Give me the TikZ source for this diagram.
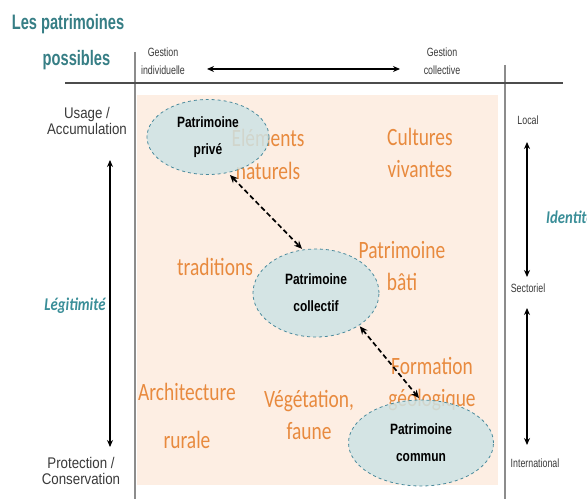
\documentclass[tikz,border=0pt]{standalone}
\usepackage{fontspec}
\usetikzlibrary{arrows.meta,shapes.geometric}
\setmainfont{Liberation Sans}
\newfontfamily\calfont[FakeStretch=0.78]{Carlito}
\newfontfamily\calaxis[FakeStretch=0.82]{Carlito}
\newfontfamily\narrowfont[FakeStretch=0.74]{Liberation Sans}
\newfontfamily\leftfont[FakeStretch=0.86]{Liberation Sans}
\newfontfamily\titlefont[FakeStretch=0.7]{Liberation Sans}
\newfontfamily\ellfont[FakeStretch=0.8]{Liberation Sans}
\definecolor{orangeC}{HTML}{E88A3E}
\definecolor{tealT}{HTML}{367E85}
\definecolor{tealL}{HTML}{3A8E98}
\definecolor{peach}{HTML}{FDEEE3}
\definecolor{ellfill}{HTML}{CDE3E5}
\definecolor{elldraw}{HTML}{4A8A9C}
\definecolor{labgray}{HTML}{3A3A3A}
\definecolor{axisgray}{HTML}{8C8C8C}
\begin{document}
\begin{tikzpicture}[x=1bp,y=-1bp,
  orangetxt/.style={font=\calfont\fontsize{25}{33}\selectfont, text=orangeC, align=center, inner sep=0pt},
  smalllab/.style={font=\narrowfont\fontsize{12}{18}\selectfont, text=labgray, align=center, inner sep=0pt},
  leftlab/.style={font=\leftfont\fontsize{15.5}{15.5}\selectfont, text=labgray, align=center, inner sep=0pt},
  titletxt/.style={font=\titlefont\bfseries\fontsize{21}{24}\selectfont, text=tealT, inner sep=0pt},
  axistxt/.style={font=\calaxis\bfseries\itshape\fontsize{18}{20}\selectfont, text=tealL, inner sep=0pt},
  patnode/.style={ellipse, draw=elldraw, dashed, line width=0.8pt, fill=ellfill, fill opacity=0.85, text opacity=1,
     font=\ellfont\bfseries\fontsize{15}{27}\selectfont, align=center, inner sep=0pt},
  axisline/.style={draw=axisgray, line width=1.2pt},
  solidarrow/.style={line width=1.5pt, {Stealth[length=7pt,width=6pt]}-{Stealth[length=7pt,width=6pt]}},
  dasharrow/.style={line width=1.7pt, dash pattern=on 5pt off 3pt, {Stealth[length=8pt,width=7pt]}-{Stealth[length=8pt,width=7pt]}}
]
\useasboundingbox (0,0) rectangle (587,499);
\fill[white] (0,0) rectangle (587,499);

% background panel
\fill[peach] (137,95) rectangle (498,485);

% axes lines
\draw[axisline] (135,52) -- (135,499);
\draw[axisline] (505,65) -- (505,499);
\draw[draw=black!70, line width=1.2pt] (65,83) -- (563,83);

% title
\node[titletxt] (t1) at (68,24) {Les patrimoines};
\node[titletxt] (t2) at (76.5,60) {possibles};

% top labels
\node[smalllab] (gi) at (163,61) {Gestion\\individuelle};
\node[smalllab] (gc) at (442,61.5) {Gestion\\collective};
\coordinate (ta1) at (207,69);
\coordinate (ta2) at (400,69);
\draw[solidarrow] (ta1) -- (ta2);

% left labels
\node[leftlab] (ua) at (87,121) {Usage /\\Accumulation};
\node[leftlab] (pc) at (81,471) {Protection /\\Conservation};
\coordinate (la1) at (110,160);
\coordinate (la2) at (110,447);
\draw[solidarrow] (la1) -- (la2);
\node[axistxt] (leg) at (75,306) {Légitimité};

% right labels
\node[smalllab] (loc) at (528,120) {Local};
\node[smalllab] (sec) at (528,288) {Sectoriel};
\node[smalllab] (int) at (535,463) {International};
\coordinate (ra1) at (527,142);
\coordinate (ra2) at (527,277);
\coordinate (ra3) at (527,308);
\coordinate (ra4) at (527,445);
\draw[solidarrow] (ra1) -- (ra2);
\draw[solidarrow] (ra3) -- (ra4);
\node[axistxt, anchor=west] (ide) at (546,217) {Identité};

% orange texts
\node[orangetxt] (elem) at (268,153) {Éléments\\naturels};
\node[orangetxt] (cult) at (420,153) {Cultures\\vivantes};
\node[orangetxt] (trad) at (215,267) {traditions};
\node[orangetxt] (bati) at (402,266) {Patrimoine\\bâti};
\node[orangetxt] (geo) at (432,384) {Formation\\géologique};
\node[orangetxt, font=\calfont\fontsize{25}{48}\selectfont] (arch) at (187,416) {Architecture\\rurale};
\node[orangetxt] (veg) at (309,415) {Végétation,\\faune};

% heritage ellipses
\node[patnode, minimum width=122bp, minimum height=75bp] (prive) at (208,137) {Patrimoine\\privé};
\node[patnode, minimum width=126bp, minimum height=88bp] (coll) at (316,293) {Patrimoine\\collectif};
\node[patnode, minimum width=145bp, minimum height=86bp] (comm) at (421,443) {Patrimoine\\commun};

% dashed links
\draw[dasharrow, shorten <=3pt, shorten >=1pt] (prive.-61) -- (coll.107);
\draw[dasharrow, shorten <=1pt, shorten >=2pt] (coll.-37) -- (comm.91);
\end{tikzpicture}
\end{document}
